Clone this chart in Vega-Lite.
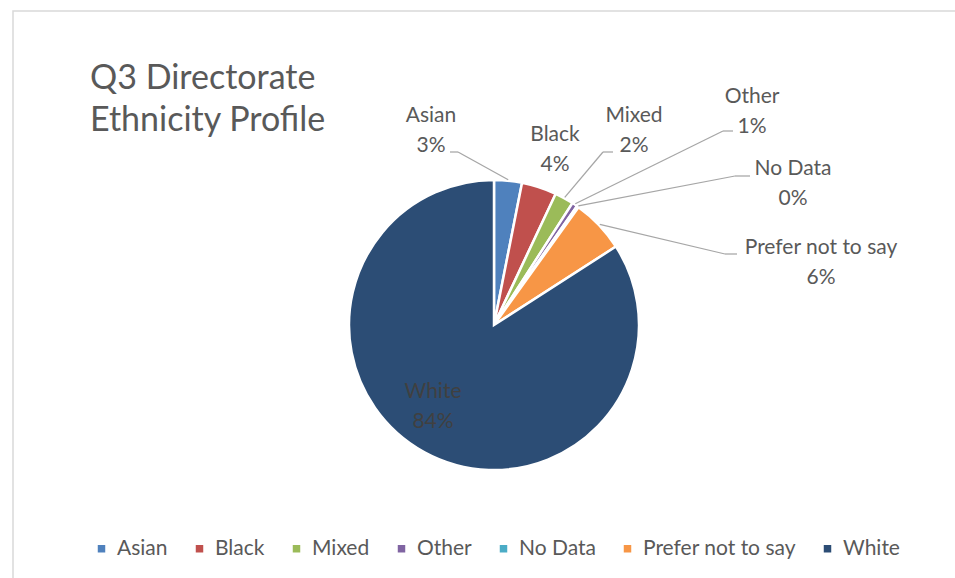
{
  "$schema": "https://vega.github.io/schema/vega-lite/v6.json",
  "width": 944,
  "height": 569,
  "autosize": {"type": "none"},
  "padding": {"left": 13, "top": 11, "right": 0, "bottom": 0},
  "background": "white",
  "config": {"view": {"stroke": "#d9d9d9", "strokeWidth": 1.5}, "font": "Lato"},
  "title": {
    "text": ["Q3 Directorate", "Ethnicity Profile"],
    "anchor": "start",
    "frame": "group",
    "orient": "top",
    "offset": 0,
    "baseline": "top",
    "dx": 77,
    "dy": 127,
    "fontSize": 34,
    "font": "Lato",
    "fontWeight": "normal",
    "color": "#595959",
    "lineHeight": 42
  },
  "data": {
    "values": [
      {"Ethnicity": "Asian", "Percent": 3.1},
      {"Ethnicity": "Black", "Percent": 3.9},
      {"Ethnicity": "Mixed", "Percent": 2.1},
      {"Ethnicity": "Other", "Percent": 0.6},
      {"Ethnicity": "No Data", "Percent": 0.2},
      {"Ethnicity": "Prefer not to say", "Percent": 6.0},
      {"Ethnicity": "White", "Percent": 84.1}
    ]
  },
  "transform": [
    {"window": [{"op": "row_number", "as": "idx"}]},
    {"window": [{"op": "sum", "field": "Percent", "as": "cumEnd"}], "sort": [{"field": "idx"}], "frame": [null, 0]},
    {"calculate": "(datum.cumEnd - datum.Percent / 2) / 100 * 2 * PI", "as": "ang"},
    {"calculate": "146 * sin(datum.ang)", "as": "ex"},
    {"calculate": "146 * cos(datum.ang)", "as": "ey"},
    {"calculate": "datum.Ethnicity + '|' + format(datum.Percent, '.0f') + '%'", "as": "label"},
    {"calculate": "[-63, 61, 140, 258, 299, 327, -61][datum.idx - 1]", "as": "lx"},
    {"calculate": "[209, 190, 209, 228, 156, 77, -67][datum.idx - 1]", "as": "ly"},
    {"calculate": "[-36, 0, 109, 229, 241, 231, 0][datum.idx - 1]", "as": "bx"},
    {"calculate": "[173, 0, 173, 194, 149, 71, 0][datum.idx - 1]", "as": "by"},
    {"calculate": "[-44, 0, 119, 239, 256, 243, 0][datum.idx - 1]", "as": "cx"},
    {"calculate": "[173, 0, 173, 194, 149, 71, 0][datum.idx - 1]", "as": "cy"}
  ],
  "layer": [
    {
      "mark": {"type": "arc", "outerRadius": 145, "stroke": "white", "strokeWidth": 2.5},
      "encoding": {
        "theta": {"field": "Percent", "type": "quantitative", "stack": true},
        "order": {"field": "idx", "type": "quantitative"},
        "color": {
          "field": "Ethnicity",
          "type": "nominal",
          "scale": {
            "domain": ["Asian", "Black", "Mixed", "Other", "No Data", "Prefer not to say", "White"],
            "range": ["#4F81BD", "#C0504D", "#9BBB59", "#8064A2", "#4BACC6", "#F79646", "#2C4D75"]
          },
          "legend": {
            "title": null,
            "orient": "none",
            "legendX": 78,
            "legendY": 527,
            "direction": "horizontal",
            "columns": 7,
            "symbolType": "square",
            "symbolSize": 56,
            "symbolStrokeWidth": 0,
            "labelFont": "Lato",
            "labelFontSize": 21,
            "labelColor": "#595959",
            "labelOffset": 5,
            "columnPadding": 21
          }
        },
        "x": {"datum": 0, "type": "quantitative", "scale": {"domain": [-481, 463], "nice": false, "zero": false}, "axis": null},
        "y": {"datum": 0, "type": "quantitative", "scale": {"domain": [-255, 314], "nice": false, "zero": false}, "axis": null}
      }
    },
    {
      "transform": [{"filter": "datum.Ethnicity !== 'Black' && datum.Ethnicity !== 'White'"}],
      "mark": {"type": "rule", "color": "#a6a6a6", "strokeWidth": 1.25},
      "encoding": {
        "x": {"field": "ex", "type": "quantitative", "scale": {"domain": [-481, 463], "nice": false, "zero": false}, "axis": null},
        "y": {"field": "ey", "type": "quantitative", "scale": {"domain": [-255, 314], "nice": false, "zero": false}, "axis": null},
        "x2": {"field": "bx"},
        "y2": {"field": "by"}
      }
    },
    {
      "transform": [{"filter": "datum.Ethnicity !== 'Black' && datum.Ethnicity !== 'White'"}],
      "mark": {"type": "rule", "color": "#a6a6a6", "strokeWidth": 1.25},
      "encoding": {
        "x": {"field": "bx", "type": "quantitative", "axis": null},
        "y": {"field": "by", "type": "quantitative", "axis": null},
        "x2": {"field": "cx"},
        "y2": {"field": "cy"}
      }
    },
    {
      "mark": {"type": "text", "font": "Lato", "fontSize": 21, "lineBreak": "|", "lineHeight": 30, "align": "center", "baseline": "middle"},
      "encoding": {
        "x": {"field": "lx", "type": "quantitative", "axis": null},
        "y": {"field": "ly", "type": "quantitative", "axis": null},
        "text": {"field": "label", "type": "nominal"},
        "color": {"condition": {"test": "datum.Ethnicity === 'White'", "value": "#404040"}, "value": "#595959"}
      }
    }
  ]
}
